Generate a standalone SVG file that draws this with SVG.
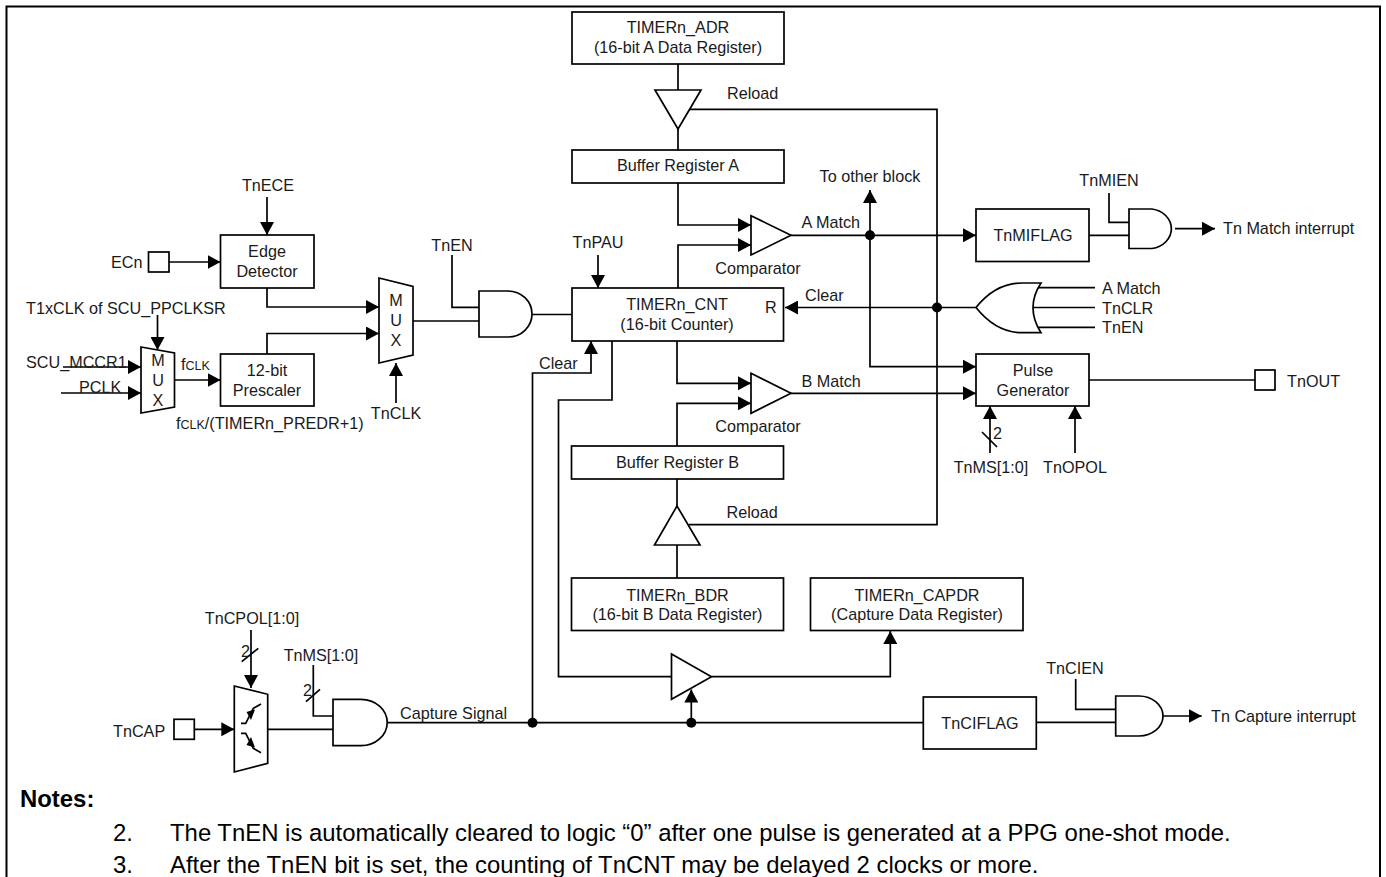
<svg xmlns="http://www.w3.org/2000/svg" width="1386" height="877" viewBox="0 0 1386 877">
<defs>
<marker id="ah" markerUnits="userSpaceOnUse" markerWidth="14" markerHeight="14" refX="13" refY="7" orient="auto"><path d="M0,0L13,7L0,14Z" fill="#000"/></marker>
</defs>
<style>
text{font-family:"Liberation Sans",Arial,sans-serif;font-size:16.2px;fill:#1a1a1a}
.c{text-anchor:middle}
.n{font-size:23.900px;fill:#000}
.s{font-size:12.500px}
.b{fill:#fff;stroke:#000;stroke-width:1.700}
.w{fill:none;stroke:#000;stroke-width:1.700}
.a{fill:none;stroke:#000;stroke-width:1.700;marker-end:url(#ah)}
.d{fill:#000}
</style>
<rect width="1386" height="877" fill="#fff"/>
<path d="M6.500 890V6.500H1380V890" fill="none" stroke="#000" stroke-width="2"/>
<g id="connectors">
<path class="w" d="M678 64V90M678 129V150"/>
<path class="w" d="M690 109.300H937V524.700H689"/>
<path class="w" d="M677 479V506M677 545V578"/>
<path class="a" d="M267 197V235"/>
<path class="a" d="M169 262H220.500"/>
<path class="a" d="M267 288V307H379"/>
<path class="a" d="M267 354V333.500H379"/>
<path class="a" d="M396 403V363"/>
<path class="a" d="M157.500 315V350"/>
<path class="a" d="M63 367H141"/>
<path class="a" d="M61 393H141"/>
<path class="a" d="M174.500 380H220.500"/>
<path class="w" d="M413 321H479M452 255V307.300H479M532 314.500H572"/>
<path class="a" d="M598 255V288"/>
<path class="a" d="M678 183V225H751"/>
<path class="a" d="M678 288V245H751"/>
<path class="a" d="M677 341V383.300H751"/>
<path class="a" d="M677 446V403.300H751"/>
<path class="a" d="M791 235.300H976"/>
<path class="a" d="M870 235.300V190"/>
<path class="a" d="M870 235.300V366.700H976"/>
<path class="a" d="M791 393.300H976"/>
<path class="a" d="M976 307.500H785"/>
<path class="w" d="M1089 235.300H1129M1109 193V222.300H1129"/>
<path class="a" d="M1175 228.700H1215"/>
<path class="w" d="M1037 287.700H1095M1032 307.500H1095M1037 327.300H1095"/>
<path class="w" d="M1089 380H1255"/>
<path class="a" d="M990 453V406"/>
<path class="a" d="M1075 453V406"/>
<path class="w" d="M982 432L997 447"/>
<path class="a" d="M532.500 722.700V373H591V341"/>
<path class="w" d="M612 341V400H558.500V676.700H671.500"/>
<path class="a" d="M711.500 676.700H890.300V631"/>
<path class="a" d="M691.300 722.700V689.500"/>
<path class="w" d="M386.700 722.700H923.300"/>
<path class="w" d="M1036 722.300H1115.700M1075.700 679V709.300H1115.700"/>
<path class="a" d="M1162.700 716H1201.700"/>
<path class="a" d="M194.300 729.300H234.300"/>
<path class="a" d="M251 630V688"/>
<path class="w" d="M241.700 661.700L258.300 648.300"/>
<path class="w" d="M267.700 729.300H333M313.300 665V716H333"/>
<path class="w" d="M306 701.700L320 689.300"/>
<circle class="d" cx="870" cy="235.300" r="5"/>
<circle class="d" cx="937" cy="307.500" r="5"/>
<circle class="d" cx="532.500" cy="722.700" r="5"/>
<circle class="d" cx="691.300" cy="722.700" r="5"/>
</g>
<g id="adr"><rect class="b" x="572" y="12" width="212" height="52"/><text class="c" x="678" y="33">TIMERn_ADR</text><text class="c" x="678" y="52.500">(16-bit A Data Register)</text></g>
<g id="tri-a"><path class="b" d="M655 90H701L678 129Z"/><text x="727" y="98.500">Reload</text></g>
<g id="bufa"><rect class="b" x="572" y="150" width="212" height="33"/><text class="c" x="678" y="171">Buffer Register A</text></g>
<g id="cnt"><rect class="b" x="572" y="288" width="211.500" height="53"/><text class="c" x="677" y="310">TIMERn_CNT</text><text class="c" x="677" y="330">(16-bit Counter)</text><text x="765" y="313">R</text></g>
<g id="bufb"><rect class="b" x="571.500" y="446" width="212" height="33"/><text class="c" x="677.500" y="468">Buffer Register B</text></g>
<g id="tri-b"><path class="b" d="M677 506L700 545H654.500Z"/><text x="726.500" y="518">Reload</text></g>
<g id="bdr"><rect class="b" x="571.500" y="578" width="212" height="52.500"/><text class="c" x="677.500" y="601">TIMERn_BDR</text><text class="c" x="677.500" y="620">(16-bit B Data Register)</text></g>
<g id="capdr"><rect class="b" x="810.500" y="578" width="212.500" height="52.500"/><text class="c" x="917" y="601">TIMERn_CAPDR</text><text class="c" x="917" y="620">(Capture Data Register)</text></g>
<g id="cmp-a"><path class="b" d="M751 215.700L791 235.300L751 255Z"/><text class="c" x="758" y="274">Comparator</text><text x="801.500" y="228">A Match</text></g>
<g id="cmp-b"><path class="b" d="M751 373.300L791 393.300L751 413.300Z"/><text class="c" x="758" y="432">Comparator</text><text x="801.500" y="386.500">B Match</text></g>
<g id="cmp-c"><path class="b" d="M671.500 654L711.500 676.700L671.500 699.300Z"/></g>
<g id="edge"><rect class="b" x="220.500" y="235" width="93.500" height="53"/><text class="c" x="267" y="257">Edge</text><text class="c" x="267" y="277">Detector</text></g>
<g id="pres"><rect class="b" x="220.500" y="354" width="93.500" height="52"/><text class="c" x="267" y="376">12-bit</text><text class="c" x="267" y="396">Prescaler</text></g>
<g id="ecn"><rect class="b" x="148.500" y="252" width="20.500" height="20"/><text x="111" y="268">ECn</text></g>
<g id="tnece"><text class="c" x="268" y="191">TnECE</text></g>
<g id="mux1"><path class="b" d="M379 278L413 286.500V355L379 363Z"/><text class="c" x="396" y="306">M</text><text class="c" x="396" y="326">U</text><text class="c" x="396" y="346">X</text></g>
<g id="mux2"><path class="b" d="M141 347L174.500 353V407L141 413Z"/><text class="c" x="158" y="366">M</text><text class="c" x="158" y="386">U</text><text class="c" x="158" y="406">X</text></g>
<g id="clk-labels"><text x="26" y="314">T1xCLK of SCU_PPCLKSR</text><text x="26" y="368">SCU_MCCR1</text><text x="79" y="393">PCLK</text><text x="181" y="370">f<tspan class="s">CLK</tspan></text><text x="176" y="429">f<tspan class="s">CLK</tspan>/(TIMERn_PREDR+1)</text><text class="c" x="396" y="419">TnCLK</text></g>
<g id="and-en"><path class="b" d="M479 291H508A24 23 0 0 1 508 337H479Z"/><text class="c" x="452" y="251">TnEN</text></g>
<g id="tnpau"><text class="c" x="598" y="248">TnPAU</text></g>
<g id="other"><text class="c" x="870" y="182">To other block</text></g>
<text x="805" y="301">Clear</text>
<text x="539" y="369">Clear</text>
<g id="miflag"><rect class="b" x="976" y="209" width="113" height="52.500"/><text class="c" x="1033" y="241">TnMIFLAG</text></g>
<g id="and-m"><path class="b" d="M1129 209H1152A23 20 0 0 1 1152 248.500H1129Z"/><text class="c" x="1109" y="186">TnMIEN</text><text x="1223" y="234">Tn Match interrupt</text></g>
<g id="or"><path class="b" d="M976 307.500C990 290 1005 283 1022 283H1041Q1025 307.500 1041 332.700H1022C1005 332.700 990 325 976 307.500Z"/><text x="1102" y="294">A Match</text><text x="1102" y="314">TnCLR</text><text x="1102" y="333">TnEN</text></g>
<g id="pulse"><rect class="b" x="976" y="354" width="113" height="52"/><text class="c" x="1033" y="376">Pulse</text><text class="c" x="1033" y="396">Generator</text></g>
<g id="tnout"><rect class="b" x="1255" y="370" width="20" height="20"/><text x="1287" y="387">TnOUT</text></g>
<g id="ms"><text x="993" y="439">2</text><text class="c" x="991" y="473">TnMS[1:0]</text><text class="c" x="1075" y="473">TnOPOL</text></g>
<g id="ciflag"><rect class="b" x="923.300" y="697" width="113" height="52"/><text class="c" x="980" y="729">TnCIFLAG</text></g>
<g id="and-c"><path class="b" d="M1115.700 696H1139A24 20 0 0 1 1139 736H1115.700Z"/><text class="c" x="1075" y="674">TnCIEN</text><text x="1211" y="722">Tn Capture interrupt</text></g>
<g id="tncap"><rect class="b" x="174" y="719.300" width="20.300" height="20"/><text x="113" y="737">TnCAP</text></g>
<g id="mux3"><path class="b" d="M234.300 686L267.700 694.300V763.300L234.300 772Z"/><path class="w" d="M241 723.300H245.700L253.300 708.300L261 704"/><path class="w" d="M241 733.300H245.700L253.300 748.300L261 752.700"/><path class="d" d="M246.500 712L255 709.500L251 720Z"/><path class="d" d="M246.500 745L255 747.500L251 737Z"/></g>
<g id="and-cap"><path class="b" d="M333 699.300H361A26 23 0 0 1 361 745.700H333Z"/><text x="400" y="719">Capture Signal</text></g>
<g id="cap-labels"><text class="c" x="252" y="624">TnCPOL[1:0]</text><text x="241" y="657">2</text><text class="c" x="321" y="661">TnMS[1:0]</text><text x="303" y="696">2</text></g>
<g id="notes"><text class="n" x="20" y="807" font-weight="700">Notes:</text><text class="n" x="113" y="841">2.</text><text class="n" x="170" y="841">The TnEN is automatically cleared to logic “0” after one pulse is generated at a PPG one-shot mode.</text><text class="n" x="113" y="873">3.</text><text class="n" x="170" y="873">After the TnEN bit is set, the counting of TnCNT may be delayed 2 clocks or more.</text></g>
</svg>
